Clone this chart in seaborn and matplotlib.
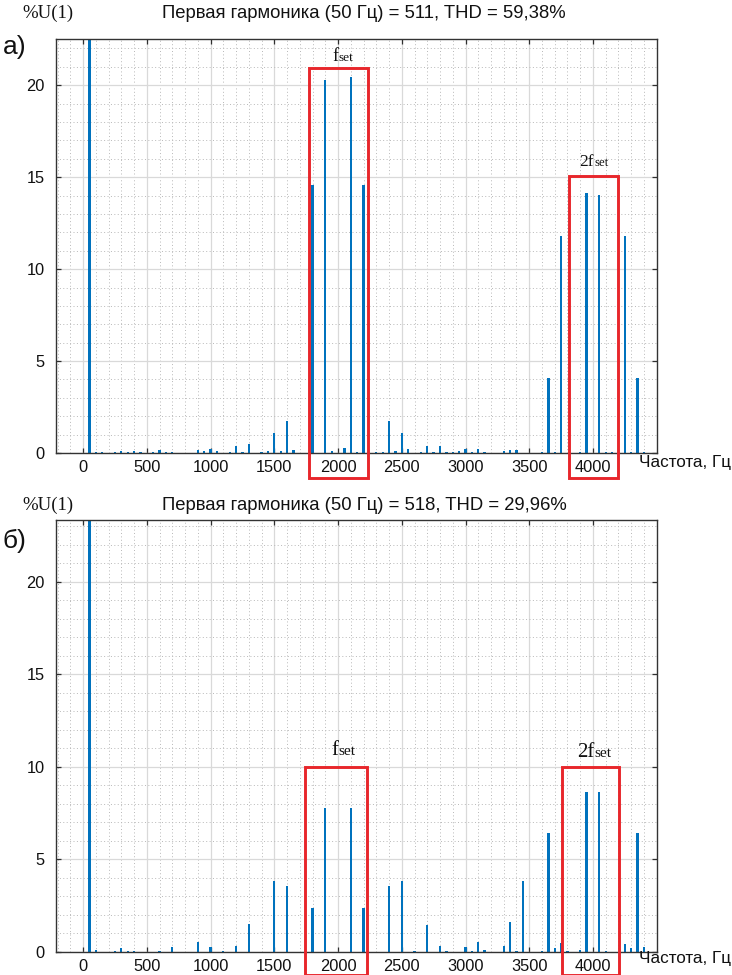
import numpy as np
import pandas as pd
import matplotlib
matplotlib.use("Agg")
import matplotlib.pyplot as plt
from matplotlib.patches import Rectangle
from matplotlib.ticker import MultipleLocator
import seaborn as sns

# ---------------- data ----------------
freq_a = [50, 100, 150, 250, 300, 350, 400, 450, 550, 600, 650, 700,
          900, 950, 1000, 1050, 1150, 1200, 1250, 1300, 1400, 1450, 1500,
          1550, 1600, 1650, 1800, 1900, 1950, 2050, 2100, 2150, 2200, 2300,
          2350, 2400, 2450, 2500, 2550, 2650, 2700, 2750, 2800, 2850, 2900,
          2950, 3000, 3050, 3100, 3150, 3300, 3350, 3400, 3600, 3650, 3700,
          3750, 3900, 3950, 4050, 4100, 4150, 4250, 4300, 4350, 4400]
amp_a = [100, 0.05, 0.05, 0.05, 0.12, 0.06, 0.12, 0.05, 0.05, 0.18, 0.06, 0.06,
         0.15, 0.12, 0.22, 0.12, 0.05, 0.37, 0.05, 0.47, 0.05, 0.10, 1.10,
         0.10, 1.75, 0.15, 14.57, 20.30, 0.10, 0.25, 20.45, 0.05, 14.57, 0.05,
         0.05, 1.75, 0.12, 1.10, 0.20, 0.05, 0.40, 0.05, 0.36, 0.05, 0.05,
         0.12, 0.20, 0.05, 0.20, 0.05, 0.10, 0.15, 0.15, 0.05, 4.08, 0.05,
         11.80, 0.05, 14.13, 14.02, 0.05, 0.05, 11.80, 0.05, 4.08, 0.05]

freq_b = [50, 100, 250, 300, 350, 400, 600, 700, 900, 1000, 1100, 1200, 1300,
          1500, 1600, 1800, 1900, 2100, 2200, 2400, 2500, 2600, 2700, 2800,
          2850, 3000, 3050, 3100, 3150, 3300, 3350, 3400, 3450, 3600, 3650,
          3700, 3750, 3800, 3900, 3950, 4050, 4100, 4250, 4300, 4350, 4400]
amp_b = [100, 0.09, 0.05, 0.20, 0.05, 0.06, 0.05, 0.27, 0.54, 0.23, 0.05, 0.32, 1.49,
         3.83, 3.57, 2.39, 7.75, 7.75, 2.35, 3.57, 3.83, 0.05, 1.45, 0.30,
         0.05, 0.27, 0.05, 0.54, 0.10, 0.30, 1.62, 0.05, 3.83, 0.05, 6.40,
         0.18, 0.49, 0.05, 0.10, 8.62, 8.66, 0.05, 0.41, 0.18, 6.40, 0.23]

titles = ["Первая гармоника (50 Гц) = 511, THD = 59,38%",
          "Первая гармоника (50 Гц) = 518, THD = 29,96%"]
panel_labels = ["а)", "б)"]
x_ticks = [0, 500, 1000, 1500, 2000, 2500, 3000, 3500, 4000]
y_ticks = [0, 5, 10, 15, 20]
ylims = [22.5, 23.35]
# boxes: (x0, x1, top) in data units
boxes_a = [(1770, 2233, 20.95), (3809, 4194, 15.05)]
boxes_b = [(1744, 2231, 10.0), (3760, 4204, 10.0)]
box_bottoms = [-1.35, -1.24]
# labels (prefix, x, baseline y, size)
lab_a = [("", 2000, 21.3, 13), ("2", 4010, 15.6, 12.5)]
lab_b = [("", 2000, 10.62, 15), ("2", 4010, 10.55, 15)]

# ---------------- style ----------------
sns.set_theme(style="white")
plt.rcParams["font.family"] = ["Liberation Sans", "DejaVu Sans"]

BAR = "#0072BD"
RED = "#E8262B"
SERIF = ["Liberation Serif", "DejaVu Serif"]

fig = plt.figure(figsize=(7.32, 9.75), dpi=100)
ax_a = fig.add_axes([55.7 / 732, 1 - 453 / 975, 601 / 732, (453 - 39.3) / 975])
ax_b = fig.add_axes([55.7 / 732, 1 - 951.7 / 975, 601 / 732, (951.7 - 520) / 975])

panels = [
    (ax_a, freq_a, amp_a, boxes_a, lab_a),
    (ax_b, freq_b, amp_b, boxes_b, lab_b),
]

for i, (ax, fr, am, boxes, labs) in enumerate(panels):
    df = pd.DataFrame({"f": fr, "a": am})
    sns.barplot(data=df, x="f", y="a", native_scale=True, width=0.36,
                color=BAR, saturation=1, linewidth=0, errorbar=None, ax=ax)
    ax.set_xlim(-215, 4500)
    ax.set_ylim(0, ylims[i])
    ax.set_xlabel("")
    ax.set_ylabel("")
    ax.set_xticks(x_ticks)
    ax.set_yticks(y_ticks)
    ax.xaxis.set_minor_locator(MultipleLocator(100))
    ax.yaxis.set_minor_locator(MultipleLocator(1))
    ax.grid(True, which="major", color="#d9d9d9", linewidth=0.9, linestyle="-")
    ax.grid(True, which="minor", color="#b8b8b8", linewidth=0.7,
            linestyle=(0, (1, 2.5)))
    ax.set_axisbelow(True)
    ax.tick_params(which="major", direction="in", length=3.5, width=0.9,
                   color="#303030", top=True, right=True, bottom=True, left=True,
                   labelsize=11.8, labelcolor="#111111")
    ax.tick_params(axis="x", which="major", pad=5)
    ax.tick_params(axis="y", which="major", pad=8)
    ax.tick_params(which="minor", length=0)
    for s in ax.spines.values():
        s.set_visible(True)
        s.set_color("#333333")
        s.set_linewidth(1.0)

    for (x0, x1, top) in boxes:
        ax.add_patch(Rectangle((x0, box_bottoms[i]), x1 - x0, top - box_bottoms[i],
                               fill=False, edgecolor=RED, linewidth=2.1,
                               clip_on=False, zorder=5))
    for (pre, x, y, sz) in labs:
        ax.text(x, y, "set", fontsize=sz * 0.74, ha="left", va="baseline",
                family=SERIF, color="#111111")
        ax.text(x, y, pre + "f", fontsize=sz, ha="right", va="baseline",
                family=SERIF, color="#111111")

# texts outside axes
for i, (ty, ly, xl_y) in enumerate([(13, 47, 462), (505, 541, 959)]):
    fig.text(48 / 732, 1 - ty / 975, "%U(1)", fontsize=13.5, ha="center", va="center",
             family=SERIF, color="#111111")
    fig.text(364 / 732, 1 - ty / 975, titles[i], fontsize=13.3, ha="center",
             va="center", color="#111111")
    fig.text(3 / 732, 1 - ly / 975, panel_labels[i], fontsize=19, ha="left",
             va="center", color="#111111")
    fig.text(639 / 732, 1 - xl_y / 975, "Частота, Гц", fontsize=12.3, ha="left",
             va="center", color="#111111")

fig.savefig("out.png", dpi=100)
